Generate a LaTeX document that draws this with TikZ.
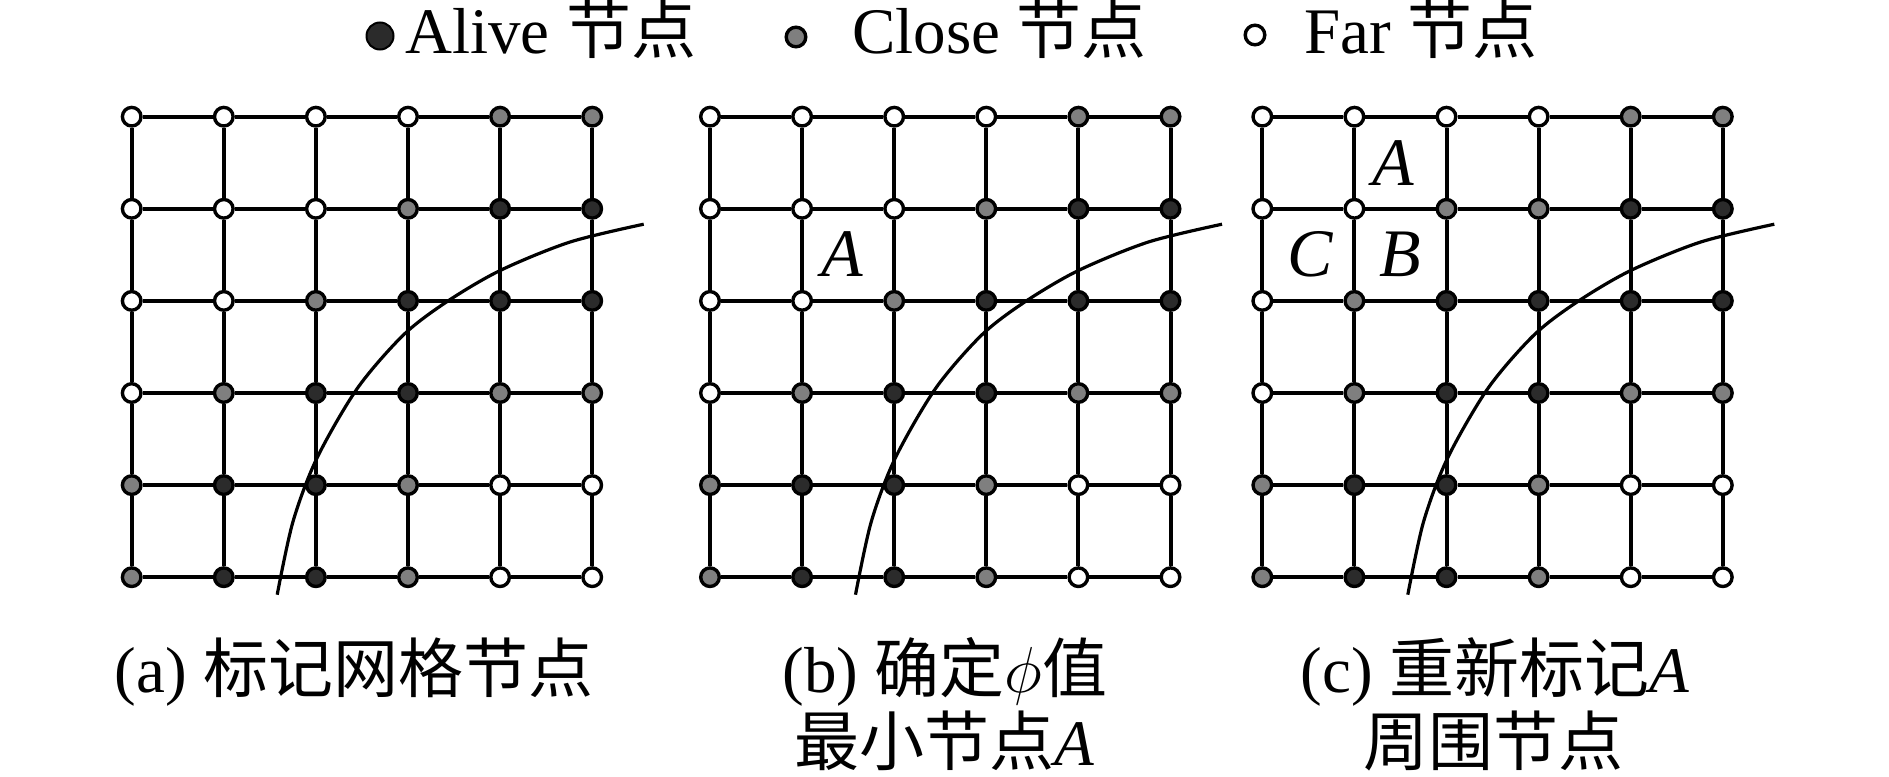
\RequirePackage{fix-cm}
\documentclass[tikz,border=0pt]{standalone}
\usepackage{fontspec}
\setmainfont{Liberation Serif}
\newfontfamily\cjk{Noto Sans CJK SC}
\definecolor{alivec}{HTML}{2B2B2B}
\definecolor{closec}{HTML}{7F7F7F}
\tikzset{
  nd/.style={circle, draw=black, line width=1.7pt, minimum size=9.3pt, inner sep=0pt},
  ndA/.style={nd, fill=alivec},
  ndC/.style={nd, fill=closec},
  ndF/.style={nd, fill=white},
  gridline/.style={line width=2pt, black},
  boundary/.style={line width=1.6pt, black},
  txt/.style={inner sep=0pt, font=\fontsize{32.5}{39}\selectfont},
  lbl/.style={inner sep=0pt, font=\fontsize{34}{40}\selectfont\itshape, anchor=base},
}
\newcommand\gridrow[4]{%
  \foreach \s [count=\c from 0] in {#4} {
    \node[nd\s] (#1-#3-\c) at ({#2+92.1*\c},{116.7+92.1*#3}) {};
  }%
}
\newcommand\gridlines[1]{%
  \foreach \r in {0,...,5} {
    \foreach \c [evaluate=\c as \n using int(\c+1)] in {0,...,4} {
      \draw[gridline] (#1-\r-\c) -- (#1-\r-\n);
      \draw[gridline] (#1-\c-\r) -- (#1-\n-\r);
    }
  }%
}
\newcommand\boundarycurve[1]{%
  \draw[boundary, shift={(#1,116.7)}] plot[smooth, tension=0.5] coordinates
    {(512,107.5) (438.4,125.3) (368.4,153.8) (315,185.1) (271.7,218.3)
     (225.6,271.7) (185.1,341.7) (161.2,405.2) (145.5,478)};
}
\begin{document}
\begin{tikzpicture}[x=0.5pt, y=-0.5pt]
\useasboundingbox (0,0) rectangle (1889,776);

% curves (behind nodes)
\boundarycurve{131.7}
\boundarycurve{710}
\boundarycurve{1262.3}

% grid (a)
\gridrow{a}{131.7}{0}{F,F,F,F,C,C}
\gridrow{a}{131.7}{1}{F,F,F,C,A,A}
\gridrow{a}{131.7}{2}{F,F,C,A,A,A}
\gridrow{a}{131.7}{3}{F,C,A,A,C,C}
\gridrow{a}{131.7}{4}{C,A,A,C,F,F}
\gridrow{a}{131.7}{5}{C,A,A,C,F,F}
% grid (b)
\gridrow{b}{710}{0}{F,F,F,F,C,C}
\gridrow{b}{710}{1}{F,F,F,C,A,A}
\gridrow{b}{710}{2}{F,F,C,A,A,A}
\gridrow{b}{710}{3}{F,C,A,A,C,C}
\gridrow{b}{710}{4}{C,A,A,C,F,F}
\gridrow{b}{710}{5}{C,A,A,C,F,F}
% grid (c)
\gridrow{c}{1262.3}{0}{F,F,F,F,C,C}
\gridrow{c}{1262.3}{1}{F,F,C,C,A,A}
\gridrow{c}{1262.3}{2}{F,C,A,A,A,A}
\gridrow{c}{1262.3}{3}{F,C,A,A,C,C}
\gridrow{c}{1262.3}{4}{C,A,A,C,F,F}
\gridrow{c}{1262.3}{5}{C,A,A,C,F,F}

\gridlines{a}
\gridlines{b}
\gridlines{c}

% labels inside grids
\node[lbl] (bA) at (842,276.7) {A};
\node[lbl] (cA) at (1393,185) {A};
\node[lbl] (cB) at (1400,276.7) {B};
\node[lbl] (cC) at (1310,276.7) {C};

% legend
\node[circle, fill=alivec, draw=black, line width=1pt, minimum size=13.5pt, inner sep=0pt] (legA) at (380,36) {};
\node[txt, anchor=base west] (legAt) at (405,54) {Alive {\cjk 节点}};
\node[circle, fill=closec, draw=black, line width=1.7pt, minimum size=9.8pt, inner sep=0pt] (legC) at (796,37) {};
\node[txt, anchor=base west] (legCt) at (852,54) {Close {\cjk 节点}};
\node[circle, fill=white, draw=black, line width=1.7pt, minimum size=9.8pt, inner sep=0pt] (legF) at (1255,35) {};
\node[txt, anchor=base west] (legFt) at (1304,54) {Far {\cjk 节点}};

% captions
\node[txt, anchor=base] (capa) at (354,692) {(a) {\cjk 标记网格节点}};
\node[txt, anchor=base] (capb1) at (945,692) {(b) {\cjk 确定}$\phi${\cjk 值}};
\node[txt, anchor=base] (capb2) at (944,765) {{\cjk 最小节点}\textit{A}};
\node[txt, anchor=base] (capc1) at (1495,692) {(c) {\cjk 重新标记}\textit{A}};
\node[txt, anchor=base] (capc2) at (1493,765) {{\cjk 周围节点}};
\end{tikzpicture}
\end{document}
